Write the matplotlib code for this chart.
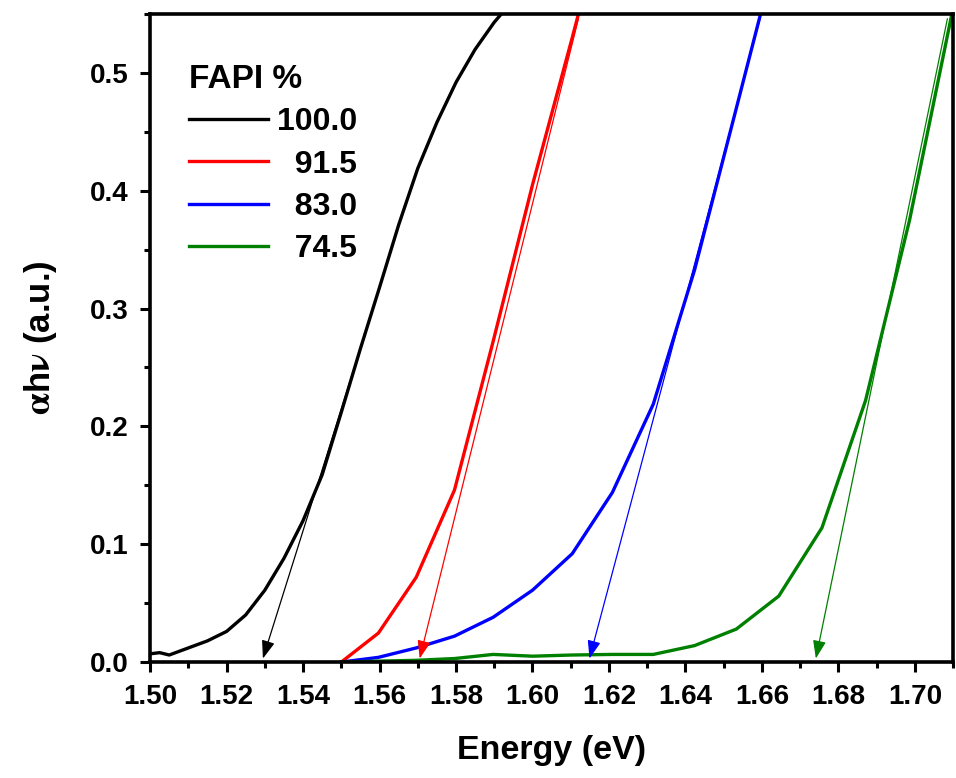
import matplotlib.pyplot as plt
from matplotlib.ticker import MultipleLocator, FormatStrFormatter

plt.rcParams['font.family'] = ['Liberation Sans', 'DejaVu Sans']
plt.rcParams['font.weight'] = 'bold'
plt.rcParams['mathtext.fontset'] = 'stix'

# FAPI 100.0 % (dense data)
e_100 = [1.500, 1.5025, 1.505, 1.5075, 1.510, 1.515, 1.520, 1.525, 1.530, 1.535,
         1.540, 1.545, 1.550, 1.555, 1.560, 1.565, 1.570, 1.575, 1.580, 1.585,
         1.590, 1.595]
a_100 = [0.007, 0.008, 0.006, 0.009, 0.012, 0.018, 0.026, 0.040, 0.061, 0.088,
         0.120, 0.159, 0.212, 0.266, 0.318, 0.371, 0.419, 0.458, 0.492, 0.520,
         0.543, 0.562]

# other compositions share the same energy grid
e_grid = [1.550, 1.5597, 1.5696, 1.5796, 1.5897, 1.600, 1.6104, 1.6209,
          1.6316, 1.6424, 1.6533, 1.6644, 1.6757, 1.6871, 1.6986, 1.7103]
a_915 = [0.0, 0.0246, 0.072, 0.146, 0.272, 0.405, 0.530, 0.660,
         None, None, None, None, None, None, None, None]
a_830 = [0.0, 0.004, 0.012, 0.022, 0.038, 0.061, 0.092, 0.144,
         0.219, 0.333, 0.470, 0.610, None, None, None, None]
a_745 = [0.0, 0.0008, 0.0015, 0.003, 0.0065, 0.005, 0.006, 0.0065,
         0.0065, 0.014, 0.028, 0.056, 0.114, 0.222, 0.375, 0.560]

labels = ['100.0', '  91.5', '  83.0', '  74.5']
colors = ['black', '#ff0000', '#0000ff', '#008000']

# tangent arrows: (start x, start y, tip x, tip y)
arr_start_x = [1.560, 1.6120, 1.6595, 1.7085]
arr_start_y = [0.318, 0.546, 0.546, 0.546]
arr_tip_x = [1.5295, 1.5705, 1.6149, 1.6741]
arr_tip_y = [0.003, 0.003, 0.003, 0.003]

fig = plt.figure(figsize=(9.56, 7.78), dpi=100)
ax = fig.add_axes([0.157, 0.149, 0.840, 0.833])

def trim(xs, ys):
    pts = [(x, y) for x, y in zip(xs, ys) if y is not None]
    return [p[0] for p in pts], [p[1] for p in pts]

series = [(e_100, a_100)] + [trim(e_grid, a) for a in (a_915, a_830, a_745)]
for (xs, ys), lab, c in zip(series, labels, colors):
    ax.plot(xs, ys, color=c, lw=2.4, label=lab)

for sx, sy, tx, ty, c in zip(arr_start_x, arr_start_y, arr_tip_x, arr_tip_y, colors):
    ax.annotate('', xy=(tx, ty), xytext=(sx, sy),
                arrowprops=dict(arrowstyle='-|>,head_length=0.55,head_width=0.2',
                                mutation_scale=20, lw=0.9, color=c,
                                shrinkA=0, shrinkB=0))

ax.set_xlim(1.50, 1.71)
ax.set_ylim(0, 0.55)
ax.xaxis.set_major_locator(MultipleLocator(0.02))
ax.xaxis.set_minor_locator(MultipleLocator(0.01))
ax.yaxis.set_major_locator(MultipleLocator(0.1))
ax.yaxis.set_minor_locator(MultipleLocator(0.05))
ax.xaxis.set_major_formatter(FormatStrFormatter('%.2f'))
ax.yaxis.set_major_formatter(FormatStrFormatter('%.1f'))
ax.tick_params(which='major', direction='out', length=7.5, width=2.2, labelsize=20, pad=8)
ax.tick_params(which='minor', direction='out', length=4, width=2.2)
for s in ax.spines.values():
    s.set_linewidth(2.6)

ax.set_xlabel('Energy (eV)', fontsize=24.5, fontweight='bold', labelpad=18)
ax.set_ylabel(r'$\mathrm{\alpha}$h$\mathrm{\nu}$ (a.u.)', fontsize=25, fontweight='bold',
              labelpad=22)

leg = ax.legend(loc='upper left', bbox_to_anchor=(0.021, 0.958), frameon=False,
                title='FAPI %', alignment='left', fontsize=23,
                handlelength=2.45, handletextpad=0.3, labelspacing=0.39,
                borderpad=0.2)
leg.get_title().set_fontsize(24)
leg.get_title().set_fontweight('bold')
leg._legend_box.sep = 9

fig.savefig('out.png', dpi=100)
